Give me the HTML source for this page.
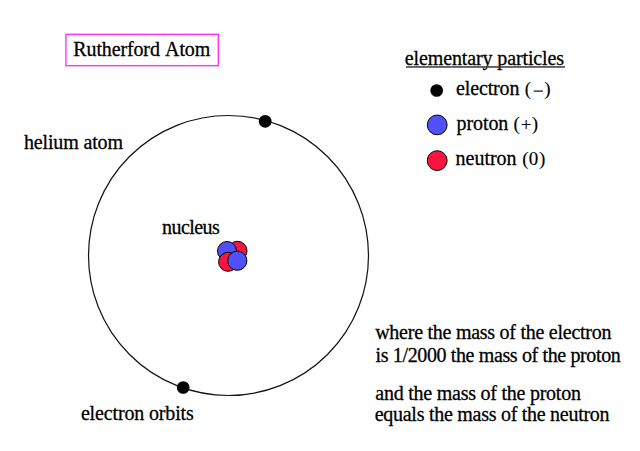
<!DOCTYPE html>
<html>
<head>
<meta charset="utf-8">
<style>
html, body { margin: 0; padding: 0; background: #fff; }
body { width: 640px; height: 451px; overflow: hidden; }
svg { display: block; }
text { font-family: "Liberation Serif", serif; font-size: 20px; fill: #000; stroke: #000; stroke-width: 0.28px; }
text.s19 { font-size: 19px; stroke-width: 0.12px; }
</style>
</head>
<body>
<svg width="640" height="451" viewBox="0 0 640 451">
  <rect x="0" y="0" width="640" height="451" fill="#fff"/>
  <!-- title box -->
  <rect x="65.9" y="34.3" width="152.4" height="31.4" fill="none" stroke="#ff2cff" stroke-width="1.35"/>
  <text x="73.3" y="55.9" letter-spacing="-0.13" word-spacing="1.6">Rutherford Atom</text>

  <!-- legend -->
  <text x="404.8" y="64.6" letter-spacing="-0.12">elementary particles</text>
  <rect x="406" y="66.2" width="159" height="1.5" fill="#383838"/>
  <circle cx="436.7" cy="90.5" r="6.35" fill="#000"/>
  <text x="456" y="95.3" letter-spacing="-0.14">electron</text>
  <text class="s19" x="524.8" y="95.3">(</text><text class="s19" x="544.25" y="95.3">)</text>
  <rect x="533.7" y="90.5" width="9.2" height="1.2" fill="#111"/>
  <circle cx="437.2" cy="124.9" r="9.9" fill="#5050fc" stroke="#000" stroke-width="1"/>
  <text x="456.6" y="129.6" letter-spacing="-0.1">proton</text>
  <text class="s19" x="513.45" y="129.6">(</text><text class="s19" x="520.8" y="131">+</text><text class="s19" x="531.65" y="129.6">)</text>
  <circle cx="437.2" cy="160.6" r="9.9" fill="#fc1441" stroke="#000" stroke-width="1"/>
  <text x="455.5" y="165.4">neutron</text>
  <text class="s19" x="522.2" y="165.4">(</text><text class="s19" x="528.85" y="165.2">0</text><text class="s19" x="539.05" y="165.4">)</text>

  <!-- atom -->
  <circle cx="228.5" cy="255.5" r="140" fill="none" stroke="#111" stroke-width="1.2"/>
  <circle cx="265.2" cy="121.3" r="6.4" fill="#000"/>
  <circle cx="183.2" cy="387.5" r="6.35" fill="#000"/>
  <text x="24" y="148.7" letter-spacing="-0.16">helium atom</text>
  <text x="162" y="233.5" letter-spacing="-0.55">nucleus</text>

  <!-- nucleus -->
  <circle cx="237.5" cy="250.8" r="9.5" fill="#fc1441" stroke="#000" stroke-width="1"/>
  <circle cx="227" cy="251" r="9.5" fill="#5050fc" stroke="#000" stroke-width="1"/>
  <circle cx="228.1" cy="261.8" r="9.5" fill="#fc1441" stroke="#000" stroke-width="1"/>
  <circle cx="237.3" cy="260.7" r="9.6" fill="#5050fc" stroke="#000" stroke-width="1"/>

  <text x="80.9" y="420.2" letter-spacing="-0.15">electron orbits</text>

  <text x="375.2" y="339.2" letter-spacing="-0.26">where the mass of the electron</text>
  <text x="375.6" y="361.5" letter-spacing="-0.37">is 1/2000 the mass of the proton</text>
  <text x="375.3" y="399.5" letter-spacing="-0.24">and the mass of the proton</text>
  <text x="374.7" y="421.1" letter-spacing="-0.27">equals the mass of the neutron</text>
</svg>
</body>
</html>
